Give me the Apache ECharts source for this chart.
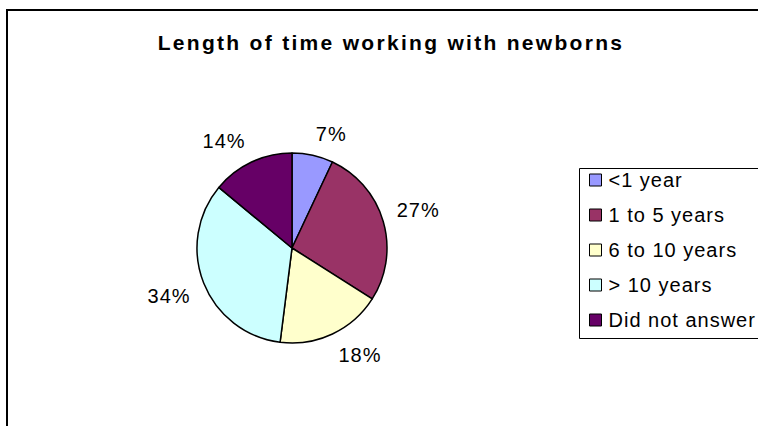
<!DOCTYPE html>
<html><head><meta charset="utf-8">
<script src="https://cdn.jsdelivr.net/npm/echarts@6/dist/echarts.min.js"></script>
<style>
html,body{margin:0;padding:0;background:#fff;}
#main{width:758px;height:426px;}
#main text{letter-spacing:1px;}
#main text[style*="bold"]{letter-spacing:2.3px;}
</style></head><body><div id="main"></div>
<script>
const titleText = 'Length of time working with newborns';
const categories = ['<1 year', '1 to 5 years', '6 to 10 years', '> 10 years', 'Did not answer'];
const percentValues = [7, 27, 18, 34, 14];
const sliceColors = ['#9999FF', '#993366', '#FFFFCC', '#CCFFFF', '#660066'];

const PIE_CENTER = [292, 248];
const FONT = 'Liberation Sans';

const frameStyle = {stroke: '#000', lineWidth: 2};
const boxStyle = {stroke: '#000', lineWidth: 1};

const chart = echarts.init(document.getElementById('main'), null, {renderer: 'svg'});
chart.setOption({
  animation: false,
  backgroundColor: '#fff',
  color: sliceColors,
  graphic: [
    {type: 'line', silent: true, shape: {x1: 6, y1: 10, x2: 770, y2: 10}, style: frameStyle},
    {type: 'line', silent: true, shape: {x1: 7, y1: 9, x2: 7, y2: 440}, style: frameStyle},
    {type: 'line', silent: true, shape: {x1: 579.5, y1: 168.5, x2: 770, y2: 168.5}, style: boxStyle},
    {type: 'line', silent: true, shape: {x1: 579.5, y1: 168.5, x2: 579.5, y2: 338.5}, style: boxStyle},
    {type: 'line', silent: true, shape: {x1: 579.5, y1: 338.5, x2: 770, y2: 338.5}, style: boxStyle}
  ],
  title: {
    text: titleText,
    left: 386, top: 27, textAlign: 'center',
    textStyle: {fontFamily: FONT, fontSize: 21, fontWeight: 'bold', color: '#000'}
  },
  legend: {
    orient: 'vertical', left: 579, top: 168,
    data: categories,
    icon: 'rect', itemWidth: 12, itemHeight: 12, itemGap: 15,
    padding: [2, 10, 7, 10],
    borderWidth: 0,
    itemStyle: {borderColor: '#000', borderWidth: 1},
    textStyle: {fontFamily: FONT, fontSize: 20, lineHeight: 20, color: '#000', padding: [0, 0, 0, 2]},
    selectedMode: false
  },
  series: [{
    type: 'pie',
    center: PIE_CENTER, radius: 95,
    startAngle: 90, clockwise: true,
    avoidLabelOverlap: false,
    data: categories.map((n, i) => ({name: n, value: percentValues[i], itemStyle: {color: sliceColors[i]}})),
    itemStyle: {borderColor: '#000', borderWidth: 1.5},
    label: {show: true, position: 'outside', formatter: '{c}%', fontFamily: FONT, fontSize: 20, color: '#000', distanceToLabelLine: 0},
    labelLine: {show: false, length: 14, length2: 0},
    labelLayout: function (p) {
      const mid = p.labelRect.y + p.labelRect.height / 2;
      return {dy: mid < PIE_CENTER[1] ? -8 : 8};
    },
    emphasis: {disabled: true}
  }]
});
</script></body></html>
